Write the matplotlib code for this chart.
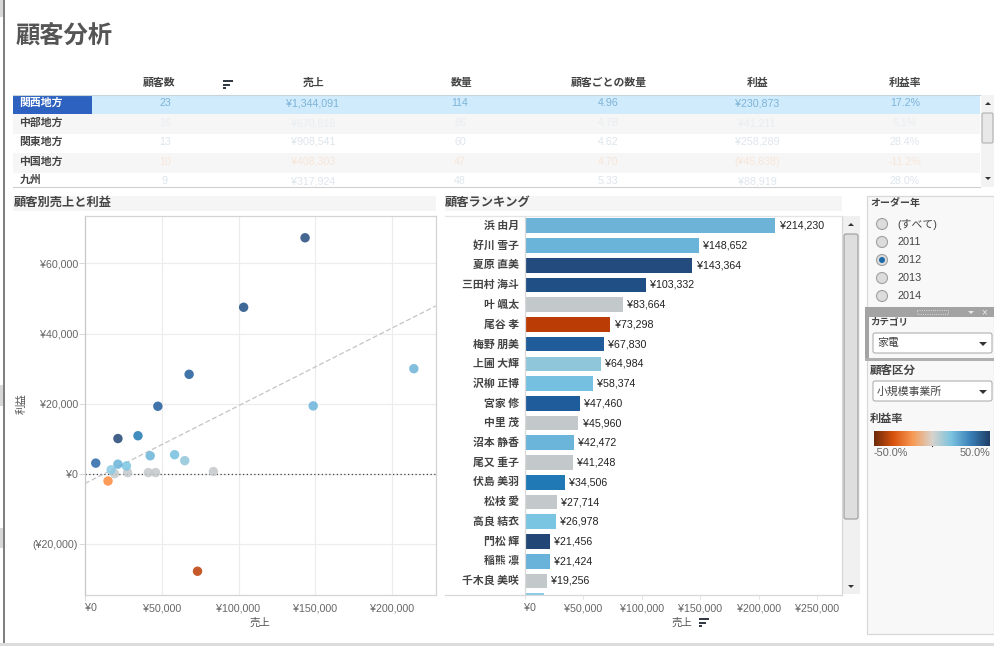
import numpy as np
import pandas as pd
import matplotlib
matplotlib.use("Agg")
import matplotlib.pyplot as plt
from matplotlib.colors import LinearSegmentedColormap
from matplotlib.patches import Rectangle, FancyBboxPatch, Polygon, Circle
from matplotlib.ticker import FuncFormatter, FixedLocator
from matplotlib.transforms import Bbox

plt.rcParams['font.family'] = ['Liberation Sans', 'Noto Sans CJK JP', 'DejaVu Sans']

W, H = 994, 646
CJK = ['Noto Sans CJK JP', 'DejaVu Sans']

# table data
regions = ['関西地方', '中部地方', '関東地方', '中国地方', '九州']
table_heads = ['顧客数', '売上', '数量', '顧客ごとの数量', '利益', '利益率']
customers_n = ['23', '16', '13', '10', '9']
sales_t = ['¥1,344,091', '¥670,818', '¥908,541', '¥408,303', '¥317,924']
qty = ['114', '86', '60', '47', '48']
qty_per = ['4.96', '4.78', '4.62', '4.70', '5.33']
profit_t = ['¥230,873', '¥41,211', '¥258,289', '(¥45,838)', '¥88,919']
margin_t = ['17.2%', '6.1%', '28.4%', '-11.2%', '28.0%']
row_text_colors = ['#7db4d8', '#e9eef1', '#dde6ec', '#f6e6da', '#dde6ec']

# customers, sorted by sales
names = ['浜 由月', '好川 雪子', '夏原 直美', '三田村 海斗', '叶 颯太', '尾谷 孝', '梅野 朋美',
         '上圃 大輝', '沢柳 正博', '宮家 修', '中里 茂', '沼本 静香', '尾又 重子', '伏島 美羽',
         '松枝 愛', '高良 結衣', '門松 輝', '稲熊 凛', '千木良 美咲', '杉取 浩']
sales = [214230, 148652, 143364, 103332, 83664, 73298, 67830, 64984, 58374, 47460,
         45960, 42472, 41248, 34506, 27714, 26978, 21456, 21424, 19256, 17000, 15000, 7000]
profit = [30000, 19400, 67300, 47500, 700, -27700, 28400, 3800, 5500, 19300,
          400, 5200, 400, 10900, 400, 2300, 10100, 2800, 100, 1200, -2000, 3100]
colors = ['#6db3d8', '#6ab4da', '#234b7d', '#204f85', '#c3c8ca', '#bc3c05', '#1f5c99',
          '#8fc6da', '#75c0e0', '#1f5c9c', '#c3c8ca', '#6bb4da', '#c3c8ca', '#2079b4',
          '#c3c8ca', '#7ac5e2', '#224676', '#69b3da', '#c3c8ca', '#8ccbe6', '#ff8a3c', '#2a66a6']

trend_x = [0, 228600]
trend_y = [-2700, 47900]

sc_xticks = [0, 50000, 100000, 150000, 200000]
sc_yticks = [-20000, 0, 20000, 40000, 60000]
bar_xticks = [0, 50000, 100000, 150000, 200000, 250000]

years = ['(すべて)', '2011', '2012', '2013', '2014']
margin_stops = ['#6e2a0a', '#d9530e', '#f79a55', '#d8d3cc', '#7cc3e0', '#3a80b8', '#1f3f68']


def yen(v, pos=None):
    if v < 0:
        return '(¥{:,.0f})'.format(-v)
    return '¥{:,.0f}'.format(v)


def axes_px(left, top, right, bottom):
    return [left / W, 1 - bottom / H, (right - left) / W, (bottom - top) / H]


def sort_icon(ax, x, y, color='#333a44'):
    ax.add_patch(Rectangle((x, y), 10, 2.2, color=color, lw=0))
    ax.add_patch(Rectangle((x, y + 3.6), 7, 2.2, color=color, lw=0))
    ax.add_patch(Rectangle((x, y + 7.2), 3, 2.2, color=color, lw=0))


fig = plt.figure(figsize=(W / 100, H / 100), dpi=100, facecolor='white')

# everything that is window furniture goes here, in pixels
ui = fig.add_axes([0, 0, 1, 1])
ui.set_xlim(0, W)
ui.set_ylim(H, 0)
ui.axis('off')

ui.add_patch(Rectangle((3.3, 0), 1.7, 643, color='#7f7f7f', lw=0))
for top, bottom in [(0, 17), (385, 406), (528, 548)]:
    ui.add_patch(Rectangle((0, top), 3.3, bottom - top, color='#d8d8d8', lw=0))
ui.add_patch(Rectangle((0, 642.5), W, 3.5, color='#dcdcdc', lw=0))
ui.text(16, 37, '顧客分析', family=CJK, fontsize=17.5, fontweight='bold', color='#555555', va='center')

# table
col_head_x = [159, 314, 462, 609, 758, 905]
col_val_x = [165, 313, 460, 608, 757, 905]
row_mid = [103, 123, 142, 162, 181]
for x, t in zip(col_head_x, table_heads):
    ui.text(x, 83, t, family=CJK, fontsize=7.8, fontweight='bold', color='#444444', ha='center', va='center')
sort_icon(ui, 223, 80)
ui.add_patch(Rectangle((13, 94.5), 967, 19.5, color='#d0ebfc', lw=0))
ui.add_patch(Rectangle((13, 114), 967, 19.5, color='#f6f6f6', lw=0))
ui.add_patch(Rectangle((13, 153), 967, 19.5, color='#f6f6f6', lw=0))
ui.add_patch(Rectangle((13, 94.5), 79, 19.5, color='#2d62c0', lw=0))
ui.plot([13, 980], [94.5, 94.5], color='#c8d4dc', lw=0.8)
ui.plot([13, 980], [187, 187], color='#d0d0d0', lw=0.8)
table_cols = [customers_n, sales_t, qty, qty_per, profit_t, margin_t]
for i, reg in enumerate(regions):
    ui.text(19.5, row_mid[i] - (1 if i == 4 else 0), reg, family=CJK, fontsize=7.8, fontweight='bold',
            color='white' if i == 0 else '#444444', va='center')
    for x, col in zip(col_val_x, table_cols):
        ui.text(x, row_mid[i], col[i], fontsize=7.7, color=row_text_colors[i], ha='center', va='center')

# table scrollbar
ui.add_patch(Rectangle((981, 95), 13, 92, color='#f3f3f3', lw=0))
ui.add_patch(FancyBboxPatch((982, 113), 11, 30, boxstyle='round,pad=0,rounding_size=1.5',
                            fc='#e8e8e8', ec='#a8a8a8', lw=0.7))
ui.add_patch(Polygon([[985, 105], [991, 105], [988, 102]], color='#333333', lw=0))
ui.add_patch(Polygon([[985, 177], [991, 177], [988, 180]], color='#333333', lw=0))

# section headers
ui.add_patch(Rectangle((13, 196), 423, 15, color='#f5f5f5', lw=0))
ui.add_patch(Rectangle((445, 196), 397, 15, color='#f5f5f5', lw=0))
ui.text(14, 202, '顧客別売上と利益', family=CJK, fontsize=8.8, fontweight='bold', color='#444444', va='center')
ui.text(445, 202, '顧客ランキング', family=CJK, fontsize=8.8, fontweight='bold', color='#444444', va='center')

# scatter
ax = fig.add_axes(axes_px(85, 216, 436, 595))
ax.set_xlim(0, 228660)
ax.set_ylim(-34470, 73500)
ax.set_axisbelow(True)
ax.grid(color='#ececec', lw=0.8)
ax.axhline(0, color='#444444', lw=0.9, ls=(0, (1, 2)), zorder=1)
ax.plot(trend_x, trend_y, color='#c4c4c4', lw=0.9, ls=(0, (4, 2)), zorder=2)
ax.scatter(sales, profit, s=46, c=colors, alpha=0.85, linewidths=0, zorder=3)
ax.xaxis.set_major_locator(FixedLocator(sc_xticks))
ax.yaxis.set_major_locator(FixedLocator(sc_yticks))
ax.xaxis.set_major_formatter(FuncFormatter(yen))
ax.yaxis.set_major_formatter(FuncFormatter(yen))
ax.tick_params(axis='x', length=0, labelsize=7.7, labelcolor='#666666', pad=6)
ax.tick_params(axis='y', length=4, width=0.7, color='#d8d8d8', labelsize=7.7, labelcolor='#666666', pad=1)
ax.get_xticklabels()[0].set_ha('left')
for s in ax.spines.values():
    s.set_color('#d4d4d4')
    s.set_linewidth(0.9)
ax.spines['left'].set_color('#c8c8c8')
ui.text(260, 623, '売上', family=CJK, fontsize=7.5, color='#555555', ha='center', va='center')
ui.text(22, 404, '利益', family=CJK, fontsize=7.5, color='#555555', rotation=90, ha='center', va='center')
ui.plot([85, 85], [595, 600], color='#d8d8d8', lw=0.7)

# ranking bars
bx = fig.add_axes(axes_px(524.5, 216, 842, 595))
pos = np.arange(len(sales))
bx.barh(pos, sales, height=0.745, color=colors, linewidth=0)
bx.set_xlim(0, 271000)
bx.set_ylim(18.71, -0.491)
clip = Bbox([[440, H - 595], [860, H - 216]])
for i, name in enumerate(names):
    t = bx.annotate(name, (0, i), xytext=(-4, 0), textcoords='offset points', ha='right', va='center',
                    family=CJK, fontsize=7.8, fontweight='bold', color='#444444', annotation_clip=False)
    t.set_clip_box(clip)
    t.set_clip_on(True)
for i, v in enumerate(sales[:19]):
    bx.annotate(yen(v), (v, i), xytext=(3, 0), textcoords='offset points', fontsize=7.7,
                color='#222222', va='center')
bx.set_yticks([])
bx.set_ylim(18.71, -0.491)
bx.xaxis.set_major_locator(FixedLocator(bar_xticks))
bx.xaxis.set_major_formatter(FuncFormatter(yen))
bx.tick_params(axis='x', length=3, width=0.7, color='#e4e4e4', labelsize=7.7, labelcolor='#666666', pad=3)
bx.get_xticklabels()[0].set_ha('left')
for side, s in bx.spines.items():
    s.set_color('#d8d8d8')
    s.set_linewidth(0.9)
bx.spines['top'].set_color('#e4e4e4')
ui.plot([445, 524], [595, 595], color='#d8d8d8', lw=0.9)
ui.plot([445, 524], [216, 216], color='#e4e4e4', lw=0.9)
ui.text(682, 623, '売上', family=CJK, fontsize=7.5, color='#555555', ha='center', va='center')
sort_icon(ui, 699, 618)

# ranking scrollbar
ui.add_patch(Rectangle((843, 216), 17, 378, color='#f0f0f0', lw=0))
ui.add_patch(FancyBboxPatch((844, 234), 14, 285, boxstyle='round,pad=0,rounding_size=2',
                            fc='#dedede', ec='#9a9a9a', lw=0.8))
ui.add_patch(Polygon([[848, 226], [854, 226], [851, 223]], color='#333333', lw=0))
ui.add_patch(Polygon([[848, 585], [854, 585], [851, 588]], color='#333333', lw=0))

# right panel
ui.add_patch(Rectangle((867, 196), 127, 438, fc='#f8f8f8', ec='#d8d8d8', lw=0.9))
ui.text(870, 203, 'オーダー年', family=CJK, fontsize=7.2, fontweight='bold', color='#444444', va='center')
for i, y in enumerate(years):
    yy = 224 + 18 * i
    ui.add_patch(Circle((882, yy), 5.5, fc='#dcdcdc', ec='#a0a0a0', lw=0.8))
    if y == '2012':
        ui.add_patch(Circle((882, yy), 3, fc='#1c6aa8', ec='none'))
    ui.text(897, yy, y, family=['Liberation Sans', 'Noto Sans CJK JP'], fontsize=7.8, color='#444444', va='center')

ui.add_patch(Rectangle((865, 307), 129, 9.5, color='#a3a3a3', lw=0))
ui.add_patch(Rectangle((865, 307), 3.5, 54, color='#a3a3a3', lw=0))
ui.add_patch(Rectangle((865, 358), 129, 3, color='#b0b0b0', lw=0))
ui.add_patch(Rectangle((917, 310), 31, 4, fc='none', ec='#e8e8e8', lw=0.6, ls=':'))
ui.add_patch(Polygon([[968, 311], [974, 311], [971, 314]], color='#e8e8e8', lw=0))
ui.text(984, 312, '×', fontsize=7, color='#eeeeee', ha='center', va='center')
ui.text(870, 321, 'カテゴリ', family=CJK, fontsize=6.8, fontweight='bold', color='#444444', va='center')
ui.text(870, 370, '顧客区分', family=CJK, fontsize=8.3, fontweight='bold', color='#444444', va='center')
ui.text(870, 418, '利益率', family=CJK, fontsize=8, fontweight='bold', color='#444444', va='center')
for top, label in [(333, '家電'), (381, '小規模事業所')]:
    ui.add_patch(FancyBboxPatch((873, top), 119, 20, boxstyle='round,pad=0,rounding_size=2',
                                fc='white', ec='#b0b0b0', lw=0.8))
    ui.text(877, top + 10, label, family=CJK, fontsize=7.8, color='#444444', va='center')
    ui.add_patch(Polygon([[979, top + 9], [987, top + 9], [983, top + 13]], color='#333333', lw=0))

cmap = LinearSegmentedColormap.from_list('margin', margin_stops)
cb = fig.add_axes(axes_px(874, 431, 990, 446))
cb.imshow(np.linspace(0, 1, 232).reshape(1, -1), aspect='auto', cmap=cmap)
cb.axis('off')
ui.plot([932, 932], [443, 446], color='#333333', lw=0.8, zorder=5)
ui.text(874, 453, '-50.0%', fontsize=7.8, color='#666666', va='center')
ui.text(990, 453, '50.0%', fontsize=7.8, color='#666666', va='center', ha='right')

fig.savefig('out.png', dpi=100)
